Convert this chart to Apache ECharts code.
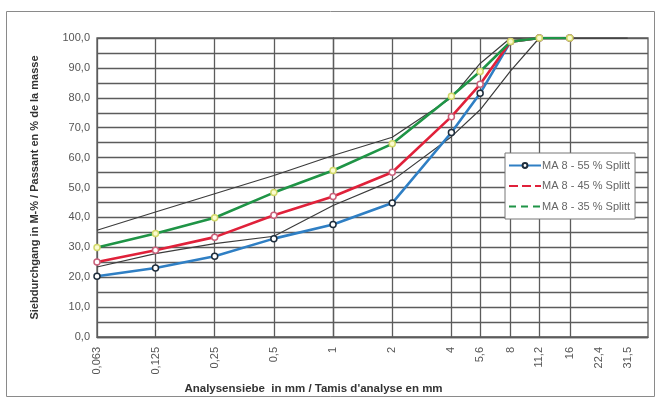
<!DOCTYPE html>
<html>
<head>
<meta charset="utf-8">
<script src="https://cdn.jsdelivr.net/npm/echarts@6/dist/echarts.min.js"></script>
<style>
html,body{margin:0;padding:0;background:#fff;}
#c{width:660px;height:403px;}
</style>
</head>
<body>
<div id="c"></div>
<script>
// Sieve sizes (mm) and their tick labels
const sieves = [0.063, 0.125, 0.25, 0.5, 1, 2, 4, 5.6, 8, 11.2, 16, 22.4, 31.5];
const sieveLabels = ['0,063', '0,125', '0,25', '0,5', '1', '2', '4', '5,6', '8', '11,2', '16', '22,4', '31,5'];
const gridSieves = [0.063, 0.125, 0.25, 0.5, 1, 2, 4, 5.6, 8, 11.2, 16];

// Passing (M-%) per sieve
const split55 = [20.3, 23.1, 27.0, 32.9, 37.6, 44.8, 68.4, 81.5, 98.8, 100, 100];
const split45 = [25.1, 29.0, 33.4, 40.7, 47.0, 55.1, 73.7, 84.5, 98.8, 100, 100];
const split35 = [29.9, 34.6, 39.9, 48.3, 55.7, 64.6, 80.5, 88.8, 98.8, 100, 100];
const limitUpper = [35.7, 41.8, 47.9, 54.0, 60.7, 66.8, 80.0, 91.5, 100, 100, 100, 100, 100];
const limitLower = [23.4, 27.9, 31.2, 33.7, 44.0, 52.3, 67.0, 76.0, 89.0, 100, 100, 100, 100];

const seriesNames = ['MA 8 - 55 % Splitt', 'MA 8 - 45 % Splitt', 'MA 8 - 35 % Splitt'];
const yTicks = [0, 10, 20, 30, 40, 50, 60, 70, 80, 90, 100];

const lg = v => Math.log2(v);
const pts = arr => arr.map((v, i) => [lg(sieves[i]), v]);

const gridColor = '#5c5c5c';
const font = 'Liberation Sans, Arial, sans-serif';
const chart = echarts.init(document.getElementById('c'), null, {renderer: 'canvas'});

chart.setOption({
  animation: false,
  backgroundColor: '#fff',
  graphic: [{
    type: 'rect', silent: true, z: -10,
    shape: {x: 6.5, y: 11.5, width: 648, height: 385},
    style: {fill: 'none', stroke: '#8a8a8a', lineWidth: 1}
  }],
  grid: {
    left: 97, right: 12, top: 38, bottom: 66,
    show: true, borderColor: gridColor, borderWidth: 1.3,
    outerBoundsMode: 'none'
  },
  legend: {
    orient: 'vertical',
    left: 505, top: 153,
    backgroundColor: '#fff',
    borderColor: '#777', borderWidth: 1,
    padding: [7, 5, 7, 3],
    itemWidth: 32, itemHeight: 6, itemGap: 9.5,
    textStyle: {fontFamily: font, fontSize: 11, color: '#666', padding: [0, 0, 0, -4]},
    data: [
      {name: seriesNames[0]},
      {name: seriesNames[1], itemStyle: {opacity: 0}, lineStyle: {type: [9, 4]}},
      {name: seriesNames[2], itemStyle: {opacity: 0}, lineStyle: {type: [7, 5]}}
    ]
  },
  xAxis: {
    type: 'value',
    min: lg(0.063), max: lg(40),
    name: 'Analysensiebe  in mm / Tamis d\'analyse en mm',
    nameLocation: 'middle', nameGap: 38,
    nameTextStyle: {fontFamily: font, fontSize: 11.5, fontWeight: 'bold', color: '#333', padding: [0, 118, 0, 0]},
    axisLine: {show: true, lineStyle: {color: gridColor, width: 1.3}},
    axisTick: {show: false, customValues: gridSieves.map(lg)},
    splitLine: {show: true, lineStyle: {color: gridColor, width: 1.3}},
    axisLabel: {
      customValues: sieves.map(lg),
      rotate: 90, margin: 10,
      fontFamily: font, fontSize: 11, color: '#555',
      formatter: v => {
        const i = sieves.findIndex(s => Math.abs(lg(s) - v) < 1e-6);
        return i >= 0 ? sieveLabels[i] : '';
      }
    }
  },
  yAxis: {
    type: 'value', min: 0, max: 100, interval: 10,
    name: 'Siebdurchgang in M-% / Passant en % de la masse',
    nameLocation: 'middle', nameGap: 57,
    nameTextStyle: {fontFamily: font, fontSize: 11, fontWeight: 'bold', color: '#333'},
    axisLine: {show: true, lineStyle: {color: gridColor, width: 1.3}},
    axisTick: {show: false},
    minorTick: {show: false, splitNumber: 2},
    splitLine: {show: true, lineStyle: {color: gridColor, width: 1.3}},
    minorSplitLine: {show: true, lineStyle: {color: gridColor, width: 1.3}},
    axisLabel: {
      margin: 7,
      fontFamily: font, fontSize: 11, color: '#555',
      formatter: v => yTicks.indexOf(v) >= 0 ? v.toFixed(1).replace('.', ',') : ''
    }
  },
  series: [
    {
      name: 'Grenzlinie oben', type: 'line', data: pts(limitUpper),
      symbol: 'none', lineStyle: {color: '#3c3c3c', width: 1.2}, z: 2
    },
    {
      name: 'Grenzlinie unten', type: 'line', data: pts(limitLower),
      symbol: 'none', lineStyle: {color: '#3c3c3c', width: 1.2}, z: 2
    },
    {
      name: seriesNames[0], type: 'line', data: pts(split55),
      symbol: 'circle', symbolSize: 6,
      lineStyle: {color: '#2f7fc4', width: 2.6},
      itemStyle: {color: '#ffffff', borderColor: '#1e2d3c', borderWidth: 1.5},
      z: 3
    },
    {
      name: seriesNames[1], type: 'line', data: pts(split45),
      symbol: 'circle', symbolSize: 6,
      lineStyle: {color: '#e0213a', width: 2.6},
      itemStyle: {color: '#ffffff', borderColor: '#c9607a', borderWidth: 1.5},
      z: 4
    },
    {
      name: seriesNames[2], type: 'line', data: pts(split35),
      symbol: 'circle', symbolSize: 6,
      lineStyle: {color: '#1f9446', width: 2.6},
      itemStyle: {color: '#fbfbd0', borderColor: '#d2d86a', borderWidth: 1.5},
      z: 5
    }
  ]
});
</script>
</body>
</html>
